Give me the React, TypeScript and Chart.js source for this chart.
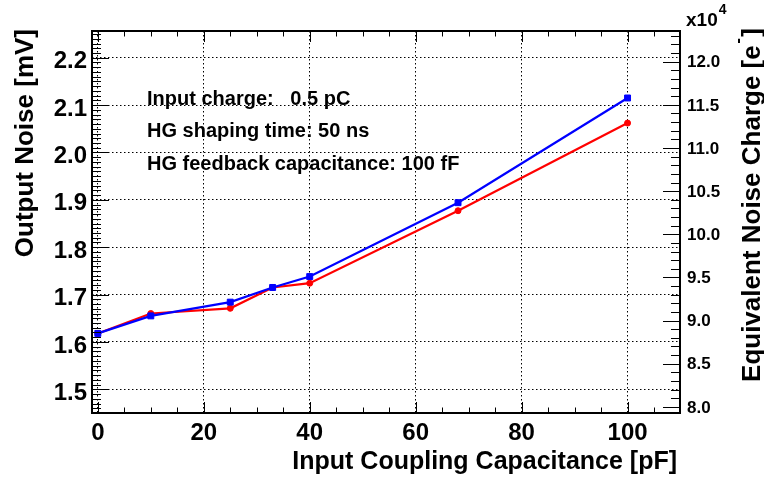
import React, { useEffect, useRef } from "react";
import { Chart, registerables } from "chart.js";

Chart.register(...registerables);

// ---- data ----
const CAPACITANCE = [0, 10, 25, 33, 40, 68, 100];
const NOISE_BLUE = [1.618, 1.655, 1.684, 1.715, 1.738, 1.894, 2.115];
const NOISE_RED = [1.618, 1.66, 1.671, 1.715, 1.724, 1.877, 2.062];

const X_TICKS = [0, 20, 40, 60, 80, 100];
const Y_TICKS = [1.5, 1.6, 1.7, 1.8, 1.9, 2.0, 2.1, 2.2];
const Y2_TICKS = [8.0, 8.5, 9.0, 9.5, 10.0, 10.5, 11.0, 11.5, 12.0];

const X_MIN = -1.1;
const X_MAX = 109.9;
const Y_MIN = 1.45;
const Y_MAX = 2.2564;
const Y2_MIN = 7.929;
const Y2_MAX = 12.356;

const ANNOTATIONS = [
  "Input charge:   0.5 pC",
  "HG shaping time: 50 ns",
  "HG feedback capacitance: 100 fF",
];

const FONT = "'Liberation Sans', Arial, Helvetica, sans-serif";

const decorPlugin = {
  id: "decor",
  afterDraw(chart: any) {
    const ctx: CanvasRenderingContext2D = chart.ctx;
    const { left, right, top, bottom } = chart.chartArea;
    const xs = chart.scales.x;
    const ys = chart.scales.y;
    const y2 = chart.scales.y2;
    ctx.save();
    ctx.strokeStyle = "#000";
    ctx.lineWidth = 1;
    ctx.beginPath();
    // x ticks (bottom & top), every 5
    for (let i = 0; i <= 110; i += 5) {
      const px = Math.round(xs.getPixelForValue(i)) + 0.5;
      if (px < left || px > right) continue;
      const len = i % 20 === 0 ? 11 : 5.5;
      ctx.moveTo(px, bottom);
      ctx.lineTo(px, bottom - len);
      ctx.moveTo(px, top);
      ctx.lineTo(px, top + len);
    }
    // left ticks, every 0.01
    for (let i = 145; i <= 226; i++) {
      const py = Math.round(ys.getPixelForValue(i / 100)) + 0.5;
      if (py < top || py > bottom) continue;
      const len = i % 10 === 0 ? 17 : 9;
      ctx.moveTo(left, py);
      ctx.lineTo(left + len, py);
    }
    // right ticks, every 0.1
    for (let i = 79; i <= 124; i++) {
      const py = Math.round(y2.getPixelForValue(i / 10)) + 0.5;
      if (py < top || py > bottom) continue;
      const len = i % 5 === 0 ? 17 : 9;
      ctx.moveTo(right, py);
      ctx.lineTo(right - len, py);
    }
    ctx.stroke();

    // frame
    ctx.lineWidth = 2;
    ctx.strokeRect(left, top, right - left, bottom - top);

    ctx.fillStyle = "#000";

    // right axis labels
    ctx.font = `bold 17px ${FONT}`;
    ctx.textAlign = "left";
    ctx.textBaseline = "middle";
    Y2_TICKS.forEach((v) => {
      ctx.fillText(v.toFixed(1), right + 7, y2.getPixelForValue(v) + 1);
    });

    ctx.textBaseline = "alphabetic";

    // annotations
    ctx.font = `bold 20px ${FONT}`;
    ctx.textAlign = "left";
    const baselines = [104.5, 137, 170];
    ANNOTATIONS.forEach((t, i) => ctx.fillText(t, 147, baselines[i]));

    // bottom title
    ctx.font = `bold 25px ${FONT}`;
    ctx.textAlign = "right";
    ctx.fillText("Input Coupling Capacitance [pF]", 677, 469);

    // left title
    ctx.save();
    ctx.translate(32.5, 29);
    ctx.rotate(-Math.PI / 2);
    ctx.textAlign = "right";
    ctx.font = `bold 26px ${FONT}`;
    ctx.fillText("Output Noise [mV]", 0, 0);
    ctx.restore();

    // right title with superscript
    ctx.save();
    ctx.translate(759.5, 28);
    ctx.rotate(-Math.PI / 2);
    ctx.textAlign = "left";
    const main = "Equivalent Noise Charge [e";
    ctx.font = `bold 26px ${FONT}`;
    const w1 = ctx.measureText(main).width;
    const w3 = ctx.measureText("]").width;
    ctx.font = `bold 17px ${FONT}`;
    const w2 = ctx.measureText("-").width + 3;
    const total = w1 + w2 + w3;
    ctx.font = `bold 26px ${FONT}`;
    ctx.fillText(main, -total, 0);
    ctx.font = `bold 17px ${FONT}`;
    ctx.fillText("-", -total + w1 + 1.5, -17);
    ctx.font = `bold 26px ${FONT}`;
    ctx.fillText("]", -w3, 0);
    ctx.restore();

    // x10^4
    ctx.textAlign = "left";
    ctx.font = `bold 19px ${FONT}`;
    ctx.fillText("x10", 686, 26);
    const wx = ctx.measureText("x10").width;
    ctx.font = `bold 14px ${FONT}`;
    ctx.fillText("4", 686 + wx + 1, 14);

    ctx.restore();
  },
};

export default function App() {
  const ref = useRef<HTMLCanvasElement>(null);
  useEffect(() => {
    if (!ref.current) return;
    const gridDash = [1.5, 2.5];
    const chart = new Chart(ref.current, {
      type: "line",
      data: {
        datasets: [
          {
            label: "blue",
            data: CAPACITANCE.map((x, i) => ({ x, y: NOISE_BLUE[i] })),
            borderColor: "#0000ff",
            backgroundColor: "#0000ff",
            borderWidth: 2.2,
            pointStyle: "rect",
            pointRadius: 4.2,
            pointBorderWidth: 1,
            tension: 0,
            order: 0,
          },
          {
            label: "red",
            data: CAPACITANCE.map((x, i) => ({ x, y: NOISE_RED[i] })),
            borderColor: "#ff0000",
            backgroundColor: "#ff0000",
            borderWidth: 2.2,
            pointStyle: "circle",
            pointRadius: 3,
            pointBorderWidth: 1,
            tension: 0,
            order: 1,
          },
        ],
      },
      options: {
        animation: false,
        responsive: false,
        maintainAspectRatio: false,
        devicePixelRatio: 1,
        layout: { padding: { top: 31, left: 0, right: 0, bottom: 0 }, autoPadding: false } as any,
        plugins: {
          legend: { display: false },
          tooltip: { enabled: false },
        },
        scales: {
          x: {
            type: "linear",
            min: X_MIN,
            max: X_MAX,
            afterBuildTicks: (s: any) => {
              s.ticks = X_TICKS.map((v) => ({ value: v }));
            },
            afterFit: (s: any) => {
              s.height = 67;
            },
            ticks: {
              font: { size: 24, weight: "bold", family: FONT },
              color: "#000",
              padding: 6,
              maxRotation: 0,
              autoSkip: false,
              callback: (v: any) => String(v),
            },
            grid: { color: "#000", lineWidth: 1, drawTicks: false },
            border: { display: false, dash: gridDash },
          },
          y: {
            type: "linear",
            position: "left",
            min: Y_MIN,
            max: Y_MAX,
            afterBuildTicks: (s: any) => {
              s.ticks = Y_TICKS.map((v) => ({ value: v }));
            },
            afterFit: (s: any) => {
              s.width = 92;
            },
            ticks: {
              font: { size: 24, weight: "bold", family: FONT },
              color: "#000",
              padding: 5,
              labelOffset: 4,
              autoSkip: false,
              callback: (v: any) => Number(v).toFixed(1),
            },
            grid: { color: "#000", lineWidth: 1, drawTicks: false },
            border: { display: false, dash: gridDash },
          },
          y2: {
            type: "linear",
            position: "right",
            min: Y2_MIN,
            max: Y2_MAX,
            afterBuildTicks: (s: any) => {
              s.ticks = Y2_TICKS.map((v) => ({ value: v }));
            },
            afterFit: (s: any) => {
              s.width = 84;
            },
            ticks: { display: false },
            grid: { drawOnChartArea: false, drawTicks: false },
            border: { display: false },
          },
        },
      },
      plugins: [decorPlugin],
    } as any);
    return () => chart.destroy();
  }, []);
  return (
    <div style={{ position: "fixed", left: 0, top: 0, width: 764, height: 480, background: "#fff" }}>
      <canvas ref={ref} width={764} height={480} style={{ width: 764, height: 480, display: "block" }} />
    </div>
  );
}
